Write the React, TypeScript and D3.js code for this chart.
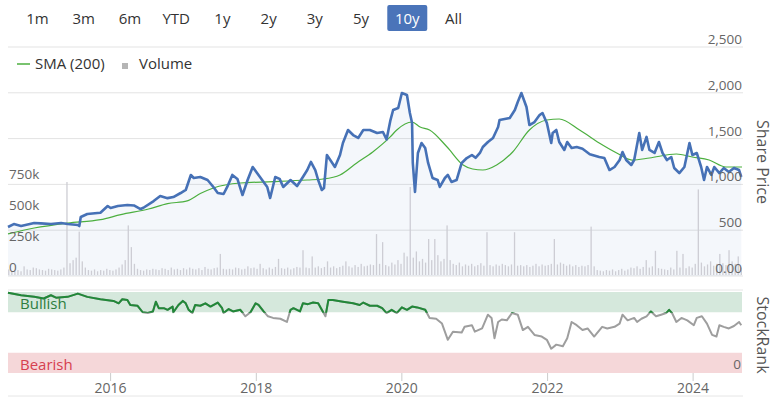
import * as d3 from 'd3'

// range selector
const rangeButtons = ['1m', '3m', '6m', 'YTD', '1y', '2y', '3y', '5y', '10y', 'All']
const activeRange = '10y'

// share price (decimal year, pence)
const priceYears = [
  2014.59, 2014.67, 2014.77, 2014.95, 2015.04, 2015.18, 2015.32, 2015.41, 2015.55, 2015.57,
  2015.59, 2015.68, 2015.82, 2015.86, 2015.96, 2016.0, 2016.1, 2016.23, 2016.32, 2016.41,
  2016.45, 2016.59, 2016.68, 2016.78, 2016.86, 2016.96, 2017.03, 2017.1, 2017.14, 2017.23,
  2017.33, 2017.41, 2017.47, 2017.55, 2017.6, 2017.67, 2017.74, 2017.81, 2017.88, 2017.95,
  2018.01, 2018.08, 2018.15, 2018.19, 2018.26, 2018.32, 2018.37, 2018.47, 2018.56, 2018.64,
  2018.7, 2018.75, 2018.81, 2018.85, 2018.9, 2018.93, 2018.97, 2019.03, 2019.08, 2019.15,
  2019.19, 2019.26, 2019.33, 2019.4, 2019.47, 2019.56, 2019.66, 2019.74, 2019.79, 2019.84,
  2019.88, 2019.95, 2020.0, 2020.07, 2020.11, 2020.14, 2020.15, 2020.18, 2020.22, 2020.27,
  2020.32, 2020.36, 2020.42, 2020.49, 2020.52, 2020.59, 2020.63, 2020.68, 2020.75, 2020.82,
  2020.89, 2020.96, 2021.01, 2021.07, 2021.11, 2021.18, 2021.25, 2021.32, 2021.34, 2021.41,
  2021.48, 2021.55, 2021.59, 2021.64, 2021.71, 2021.75, 2021.82, 2021.89, 2021.93, 2021.99,
  2022.05, 2022.07, 2022.12, 2022.16, 2022.23, 2022.27, 2022.33, 2022.4, 2022.48, 2022.58,
  2022.71, 2022.78, 2022.85, 2022.92, 2022.99, 2023.03, 2023.08, 2023.15, 2023.19, 2023.26,
  2023.3, 2023.36, 2023.4, 2023.47, 2023.53, 2023.58, 2023.64, 2023.7, 2023.74, 2023.81,
  2023.88, 2023.95, 2023.99, 2024.05, 2024.11, 2024.15, 2024.19, 2024.25, 2024.29, 2024.36,
  2024.42, 2024.49, 2024.56, 2024.63, 2024.66,
]
const priceValues = [
  535, 567, 546, 578, 575, 567, 578, 567, 557, 545,
  644, 677, 688, 690, 764, 742, 764, 775, 770, 731,
  745, 818, 873, 850, 862, 906, 939, 1103, 1070, 1081,
  1048, 972, 906, 895, 972, 1103, 1060, 884, 1048, 1190,
  1124, 1048, 972, 851, 1081, 1060, 972, 1048, 982, 1081,
  1157, 1245, 1157, 1048, 939, 960, 1321, 1250, 1190, 1321,
  1452, 1594, 1539, 1507, 1594, 1594, 1561, 1572, 1490, 1690,
  1812, 1834, 1998, 1976, 1779, 1670, 1234, 917, 1343, 1452,
  1397, 1234, 1070, 1048, 972, 1070, 1103, 1026, 1048, 1234,
  1288, 1321, 1290, 1343, 1408, 1463, 1507, 1627, 1703, 1714,
  1725, 1812, 1900, 1998, 1845, 1648, 1681, 1757, 1779, 1670,
  1452, 1561, 1594, 1463, 1376, 1463, 1397, 1408, 1390, 1330,
  1299, 1288, 1157, 1190, 1266, 1354, 1266, 1212, 1266, 1561,
  1376, 1518, 1376, 1343, 1463, 1343, 1266, 1299, 1179, 1124,
  1190, 1452, 1321, 1343, 1190, 1048, 1190, 1103, 1190, 1124,
  1179, 1135, 1179, 1157, 1081,
]

// 200 day simple moving average
const smaYears = [
  2014.59, 2014.95, 2015.41, 2015.86, 2016.14, 2016.52, 2016.78, 2017.05, 2017.23, 2017.41,
  2017.78, 2018.23, 2018.7, 2018.92, 2019.15, 2019.38, 2019.6, 2019.84, 2019.93, 2020.14,
  2020.25, 2020.38, 2020.62, 2020.84, 2020.97, 2021.11, 2021.3, 2021.52, 2021.75, 2021.99,
  2022.16, 2022.44, 2022.71, 2022.95, 2023.16, 2023.4, 2023.77, 2023.99, 2024.22, 2024.45,
  2024.67,
]
const smaValues = [
  459, 524, 578, 615, 670, 731, 790, 820, 900, 961,
  1015, 1030, 1048, 1059, 1103, 1234, 1354, 1518, 1594, 1681,
  1627, 1594, 1408, 1212, 1168, 1157, 1212, 1354, 1594, 1703,
  1714, 1594, 1452, 1343, 1266, 1288, 1332, 1299, 1266, 1190,
  1190,
]

// StockRank history
const rankYears = [
  2014.59, 2014.77, 2014.95, 2015.08, 2015.18, 2015.25, 2015.41, 2015.55, 2015.68, 2015.86,
  2016.04, 2016.11, 2016.16, 2016.23, 2016.27, 2016.37, 2016.44, 2016.51, 2016.58, 2016.62,
  2016.66, 2016.73, 2016.78, 2016.85, 2016.86, 2016.93, 2016.99, 2017.03, 2017.07, 2017.12,
  2017.16, 2017.23, 2017.3, 2017.37, 2017.47, 2017.53, 2017.55, 2017.62, 2017.68, 2017.78,
  2017.85, 2017.92, 2017.99, 2018.03, 2018.1, 2018.16, 2018.23, 2018.33, 2018.42, 2018.47,
  2018.51, 2018.6, 2018.64, 2018.71, 2018.78, 2018.85, 2018.9, 2018.95, 2018.99, 2019.05,
  2019.19, 2019.33, 2019.42, 2019.47, 2019.56, 2019.66, 2019.73, 2019.79, 2019.86, 2019.93,
  2020.0, 2020.07, 2020.14, 2020.21, 2020.32, 2020.38, 2020.47, 2020.55, 2020.63, 2020.7,
  2020.82, 2020.86, 2020.96, 2021.0, 2021.1, 2021.18, 2021.23, 2021.27, 2021.32, 2021.37,
  2021.44, 2021.51, 2021.59, 2021.66, 2021.73, 2021.82, 2021.92, 2021.99, 2022.05, 2022.12,
  2022.21, 2022.27, 2022.33, 2022.4, 2022.48, 2022.55, 2022.64, 2022.75, 2022.82, 2022.92,
  2022.99, 2023.03, 2023.1, 2023.19, 2023.23, 2023.29, 2023.36, 2023.42, 2023.49, 2023.56,
  2023.63, 2023.67, 2023.71, 2023.77, 2023.84, 2023.92, 2024.01, 2024.05, 2024.12, 2024.19,
  2024.26, 2024.32, 2024.36, 2024.42, 2024.49, 2024.56, 2024.63, 2024.66,
]
const rankValues = [
  99, 96, 94, 92, 96, 93, 94, 98, 94, 91,
  89, 86, 91, 90, 84, 83, 75, 74, 76, 88,
  80, 80, 78, 82, 75, 84, 89, 86, 78, 74,
  84, 83, 86, 82, 87, 80, 74, 79, 76, 78,
  70, 75, 86, 84, 76, 70, 68, 67, 63, 78,
  80, 76, 86, 85, 87, 86, 78, 70, 90, 90,
  88, 86, 84, 87, 83, 83, 80, 74, 78, 74,
  81, 78, 82, 81, 78, 68, 67, 61, 41, 51,
  50, 57, 59, 51, 55, 72, 68, 43, 63, 66,
  65, 74, 72, 53, 57, 47, 45, 41, 30, 35,
  33, 43, 63, 59, 53, 55, 45, 57, 55, 57,
  61, 72, 65, 68, 63, 67, 70, 76, 70, 72,
  74, 78, 74, 63, 68, 65, 59, 68, 70, 61,
  47, 45, 59, 57, 55, 58, 63, 59,
]

// volume, thousands of shares per half month, from Aug 2014
const volumeValues = [
  45, 30, 35, 40, 30, 70, 45, 40, 60, 55, 45, 40, 35, 50, 45, 40, 35, 45, 60, 750, 95, 120, 140, 350,
  110, 60, 40, 35, 45, 30, 40, 35, 50, 40, 35, 45, 60, 85, 120, 400, 225, 90, 50, 40, 35, 45, 40, 50,
  45, 40, 55, 50, 40, 60, 45, 50, 40, 55, 45, 60, 50, 45, 55, 40, 65, 50, 45, 55, 60, 170, 50, 45,
  50, 45, 60, 55, 45, 50, 70, 55, 60, 50, 90, 55, 45, 60, 50, 65, 130, 55, 50, 60, 45, 55, 65, 60,
  200, 60, 55, 150, 60, 70, 55, 65, 110, 60, 70, 55, 65, 75, 110, 70, 60, 80, 65, 90, 70, 75, 85, 80,
  330, 90, 265, 80, 70, 100, 85, 120, 90, 180, 150, 710, 140, 190, 110, 130, 100, 290, 120, 290, 160, 110, 130, 400,
  120, 90, 80, 100, 70, 85, 75, 90, 70, 80, 95, 75, 345, 80, 70, 85, 75, 90, 80, 70, 85, 345, 75, 80,
  70, 80, 65, 75, 90, 70, 85, 75, 80, 90, 290, 85, 100, 90, 75, 85, 70, 80, 65, 75, 70, 80, 390, 70,
  40, 35, 30, 40, 35, 45, 30, 40, 50, 35, 45, 60, 55, 70, 50, 65, 120, 60, 70, 195, 55, 50, 45, 40,
  60, 45, 195, 60, 170, 55, 70, 60, 90, 690, 100, 70, 85, 110, 75, 90, 170, 95, 80, 200, 110, 90, 150, 60,
]
const volumeFrom = 2014.6
const volumeTo = 2024.66

const priceTicks = [0, 500, 1000, 1500, 2000, 2500]
const volumeTicks = [0, 250, 500, 750]

const FONT = '"Open Sans", "Noto Sans", sans-serif'

const toDate = (t: number) => {
  const y = Math.floor(t)
  const s = new Date(y, 0, 1).getTime()
  const e = new Date(y + 1, 0, 1).getTime()
  return new Date(s + (t - y) * (e - s))
}

export default function App() {
  const width = 774
  const height = 398
  const left = 8
  const right = 742

  const x = d3.scaleTime().domain([toDate(2014.59), toDate(2024.67)]).range([left, right])
  const yPrice = d3.scaleLinear().domain([0, 2500]).range([276, 47])
  const yVol = d3.scaleLinear().domain([0, 750]).range([275, 182])
  const yRank = d3.scaleLinear().domain([0, 100]).range([373, 292])
  const btn = d3.scalePoint<string>().domain(rangeButtons).range([37.5, 453.5])

  const price = priceYears.map((t, i) => ({ d: toDate(t), v: priceValues[i] }))
  const sma = smaYears.map((t, i) => ({ d: toDate(t), v: smaValues[i] }))
  const rank = rankYears.map((t, i) => ({ d: toDate(t), v: rankValues[i] }))
  const step = (volumeTo - volumeFrom) / (volumeValues.length - 1)
  const volume = volumeValues.map((v, i) => ({ d: toDate(volumeFrom + i * step), v }))

  const priceLine = d3.line<{ d: Date; v: number }>().x(p => x(p.d)).y(p => yPrice(p.v))
  const priceArea = d3.area<{ d: Date; v: number }>().x(p => x(p.d)).y0(yPrice(0)).y1(p => yPrice(p.v))
  const smaLine = d3.line<{ d: Date; v: number }>().x(p => x(p.d)).y(p => yPrice(p.v)).curve(d3.curveMonotoneX)
  const rankLine = d3.line<{ d: Date; v: number }>().x(p => x(p.d)).y(p => yRank(p.v))

  const yearTicks = x.ticks(d3.timeYear.every(2) as d3.TimeInterval)

  return (
    <svg width={width} height={height} style={{ position: 'absolute', left: 0, top: 0, fontFamily: FONT }}>
      <rect width={width} height={height} fill="#fff" />

      {/* range buttons */}
      {rangeButtons.map(b => (
        <g key={b}>
          {b === activeRange && (
            <rect x={btn(b)! - 20} y={5} width={40} height={26} rx={2} fill="#4a74b9" />
          )}
          <text x={btn(b)} y={24} textAnchor="middle" fontSize={15} fill={b === activeRange ? '#fff' : '#333'}>{b}</text>
        </g>
      ))}

      {/* price grid */}
      {priceTicks.map(t => (
        <line key={t} x1={left} x2={right + 1} y1={yPrice(t)} y2={yPrice(t)} stroke="#e3e3e3" />
      ))}

      <path d={priceArea(price)!} fill="#4a74b9" fillOpacity={0.06} />

      {/* volume */}
      {volume.map((p, i) => (
        <rect key={i} x={x(p.d) - 0.6} width={1.3} y={yVol(p.v)} height={yVol(0) - yVol(p.v)} fill="#cdcdd4" />
      ))}

      <path d={smaLine(sma)!} fill="none" stroke="#4caf3f" strokeWidth={1.2} />
      <path d={priceLine(price)!} fill="none" stroke="#4671b6" strokeWidth={2.6} strokeLinejoin="round" />

      {/* price axis labels */}
      {priceTicks.map(t => (
        <text key={t} x={right} y={yPrice(t) - 3} textAnchor="end" fontSize={13.5} fill="#666">
          {t === 0 ? '0.00' : d3.format(',')(t)}
        </text>
      ))}
      <text transform={`translate(757,162) rotate(90)`} textAnchor="middle" fontSize={16} fill="#555">Share Price</text>

      {/* volume axis labels */}
      {volumeTicks.map(t => (
        <text key={t} x={9} y={yVol(t) - 3} fontSize={13.5} fill="#666">{t === 0 ? '0' : `${t}k`}</text>
      ))}

      {/* legend */}
      <line x1={17} x2={30} y1={64} y2={64} stroke="#4caf3f" strokeWidth={1.5} />
      <text x={35} y={69} fontSize={15} fill="#333">SMA (200)</text>
      <rect x={122} y={63} width={6} height={6} fill="#b5b5b5" />
      <text x={139} y={69} fontSize={15} fill="#333">Volume</text>

      {/* StockRank panel */}
      <line x1={left} x2={right + 1} y1={290} y2={290} stroke="#e6e6e6" />
      <rect x={left} y={yRank(100)} width={right - left} height={yRank(75) - yRank(100)} fill="#d5e8dc" />
      <rect x={left} y={yRank(25)} width={right - left} height={yRank(0) - yRank(25)} fill="#f5d7d9" />
      <text x={20} y={309} fontSize={15} fill="#2e7d3e">Bullish</text>
      <text x={20} y={370} fontSize={15} fill="#d6404f">Bearish</text>
      <text x={741} y={369} textAnchor="end" fontSize={13.5} fill="#666">0</text>
      <defs>
        <clipPath id="bull">
          <rect x={0} y={0} width={width} height={yRank(75) + 0.5} />
        </clipPath>
      </defs>
      <path d={rankLine(rank)!} fill="none" stroke="#9e9e9e" strokeWidth={2} strokeLinejoin="round" />
      <path d={rankLine(rank)!} fill="none" stroke="#218838" strokeWidth={2} strokeLinejoin="round" clipPath="url(#bull)" />
      <text transform={`translate(757,335) rotate(90)`} textAnchor="middle" fontSize={16} fill="#555">StockRank</text>

      {/* x axis */}
      {yearTicks.map(t => (
        <g key={+t}>
          <line x1={x(t)} x2={x(t)} y1={373} y2={381} stroke="#ccc" />
          <text x={x(t)} y={393} textAnchor="middle" fontSize={14} fill="#666">{d3.timeFormat('%Y')(t)}</text>
        </g>
      ))}
      <line x1={left} x2={right + 1} y1={396} y2={396} stroke="#e6e6e6" />
    </svg>
  )
}
